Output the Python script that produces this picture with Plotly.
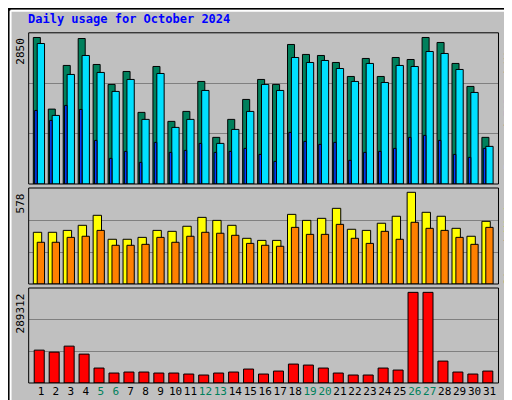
import plotly.graph_objects as go

days = list(range(1, 32))
weekend = [5, 6, 12, 13, 19, 20, 26, 27]

hits = [2850, 1457, 2306, 2830, 2325, 1937, 2189, 1393, 2286, 1218, 1412, 1995, 907, 1257, 1645, 2034,
        1937, 2714, 2520, 2500, 2364, 2092, 2442, 2092, 2461, 2422, 2850, 2753, 2345, 1898, 907]
files = [2733, 1334, 2131, 2500, 2170, 1801, 2034, 1257, 2150, 1101, 1257, 1820, 790, 1062, 1412, 1937,
         1820, 2461, 2364, 2403, 2247, 1995, 2345, 1975, 2306, 2286, 2578, 2539, 2228, 1781, 732]
pages = [1431, 1237, 1529, 1451, 848, 499, 635, 421, 810, 615, 654, 790, 615, 635, 693, 576,
         440, 1004, 829, 771, 810, 460, 615, 635, 693, 907, 946, 848, 576, 518, 693]
visits = [326, 326, 338, 370, 433, 282, 282, 294, 338, 332, 364, 420, 401, 370, 288, 275,
          275, 439, 401, 414, 477, 345, 338, 383, 427, 578, 452, 427, 351, 301, 395]
sites = [263, 263, 294, 301, 338, 244, 244, 250, 294, 263, 301, 326, 320, 307, 256, 244,
         238, 357, 313, 313, 376, 288, 256, 332, 282, 389, 351, 338, 294, 250, 357]
kbytes = [104910, 98552, 117627, 92194, 47687, 31791, 34970, 34970, 31791, 31791, 28612, 25433,
          31791, 34970, 44507, 28612, 38149, 60403, 57224, 47687, 31791, 25433, 25433, 47687,
          41328, 289312, 289312, 69940, 34970, 28612, 38149]

FONT = "DejaVu Sans Mono"
fig = go.Figure()

def bars(vals, color, offset, width, ax):
    fig.add_trace(go.Bar(x=days, y=vals, offset=offset, width=width, marker_color=color,
                         marker_line=dict(color="black", width=1), xaxis="x" + ax, yaxis="y" + ax,
                         hoverinfo="skip", showlegend=False))

bars(hits, "#00805C", -0.51, 0.47, "")
bars(files, "#00E0FF", -0.25, 0.49, "")
bars(pages, "#0040FF", -0.42, 0.17, "")
bars(visits, "#FFFF00", -0.51, 0.56, "2")
bars(sites, "#FF8000", -0.25, 0.49, "2")
bars(kbytes, "#FF0000", -0.45, 0.67, "3")

doms = {"": [0.56, 0.938], "2": [0.31, 0.55], "3": [0.0625, 0.30]}
maxes = {"": max(hits), "2": max(visits), "3": max(kbytes)}
ratios = {"": 1.032, "2": 1.047, "3": 1.048}

ticktext = ['<span style="color:#00805C">%d</span>' % d if d in weekend else str(d) for d in days]
layout = dict(width=512, height=400, margin=dict(l=0, r=0, t=0, b=0),
              paper_bgcolor="#C0C0C0", plot_bgcolor="#C0C0C0", barmode="overlay",
              font=dict(family=FONT, size=12, color="black"))
for ax, dom in doms.items():
    top = maxes[ax] * ratios[ax]
    layout["xaxis" + ax] = dict(domain=[0.0404, 0.958], range=[0.18, 31.6], anchor="y" + ax,
                                showgrid=False, zeroline=False,
                                tickvals=days if ax == "3" else [], ticktext=ticktext,
                                ticks="", tickangle=0, tickfont=dict(size=11, family=FONT),
                                showticklabels=(ax == "3"))
    layout["yaxis" + ax] = dict(domain=dom, range=[0, top], anchor="x" + ax,
                                tickvals=[top / 3, top * 2 / 3], showticklabels=False,
                                gridcolor="#808080", gridwidth=1, zeroline=False, ticks="")
fig.update_layout(**layout)

shapes = []
for ax, dom in doms.items():
    shapes.append(dict(type="rect", xref="paper", yref="paper", x0=0.0404, x1=0.958,
                       y0=dom[0], y1=dom[1], line=dict(color="black", width=1)))
# outer bevel
shapes.append(dict(type="rect", xref="paper", yref="paper", x0=0.002, x1=0.998, y0=0.002, y1=0.998,
                   line=dict(color="black", width=2)))
shapes.append(dict(type="line", xref="paper", yref="paper", x0=0.006, x1=0.994, y0=0.993, y1=0.993,
                   line=dict(color="white", width=2)))
shapes.append(dict(type="line", xref="paper", yref="paper", x0=0.005, x1=0.005, y0=0.007, y1=0.993,
                   line=dict(color="white", width=2)))
shapes.append(dict(type="line", xref="paper", yref="paper", x0=0.006, x1=0.994, y0=0.008, y1=0.008,
                   line=dict(color="#808080", width=3)))
shapes.append(dict(type="line", xref="paper", yref="paper", x0=0.993, x1=0.993, y0=0.007, y1=0.993,
                   line=dict(color="#808080", width=3)))
fig.update_layout(shapes=shapes)

ann = [dict(text="<b>Daily usage for October 2024</b>", x=0.035, y=0.995, xref="paper", yref="paper",
            xanchor="left", yanchor="top", showarrow=False, font=dict(color="#0000FF", size=12))]
for ax, dom in doms.items():
    ann.append(dict(text=str(maxes[ax]), x=0.0404, y=dom[1] - 0.008, xref="paper", yref="paper",
                    xanchor="right", yanchor="top", textangle=-90, showarrow=False,
                    font=dict(size=11)))
side = {"": ('<span style="color:#00C0E0">Pages</span> / <span style="color:#0080C0">Files</span>'
             ' / <span style="color:#00805C">Hits</span>'),
        "2": '<span style="color:#FF8000">Sites</span> / <span style="color:#FFFF00">Visits</span>',
        "3": '<span style="color:#FF0000">KBytes</span>'}
for ax, dom in doms.items():
    ann.append(dict(text=side[ax], x=0.978, y=dom[1] - 0.005, xref="paper", yref="paper",
                    xanchor="center", yanchor="top", textangle=-90, showarrow=False,
                    font=dict(size=11)))
fig.update_layout(annotations=ann)

fig.write_html("out.html")
